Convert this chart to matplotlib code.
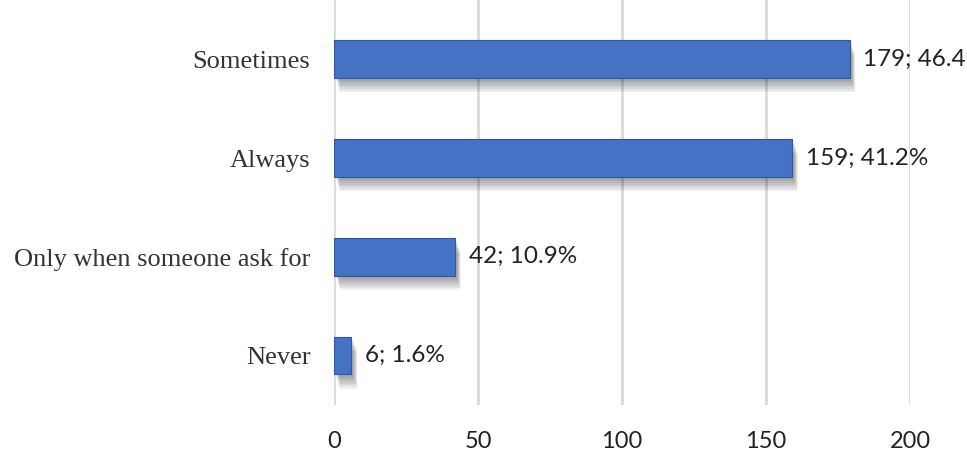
import matplotlib
matplotlib.use('Agg')
import matplotlib.pyplot as plt
import matplotlib.patheffects as pe

categories = ["Never", "Only when someone ask for", "Always", "Sometimes"]
counts = [6, 42, 159, 179]
percents = [1.6, 10.9, 41.2, 46.4]
xticks = [0, 50, 100, 150, 200]

fig = plt.figure(figsize=(9.67, 4.58), dpi=100)
ax = fig.add_axes([334 / 967, 53 / 458, (910 - 334) / 967, 405 / 458])

# soft drop shadow: stacked translucent copies shifted down/right
shadow = [pe.SimplePatchShadow(offset=(1.5 + 0.4 * i, -2 - 1.2 * i), shadow_rgbFace='black', alpha=0.05)
          for i in range(8)] + [pe.Normal()]

pos = range(len(categories))
bars = ax.barh(pos, counts, height=0.38, color='#4472C4', edgecolor='#2F55A4',
               linewidth=0.8, zorder=3)
for b in bars:
    b.set_path_effects(shadow)

for y, c, p in zip(pos, counts, percents):
    ax.annotate(f"{c}; {p}%", (c, y), xytext=(10, 0), textcoords='offset points',
                va='center', ha='left', fontsize=17.5, family='Lato', color='#222222',
                annotation_clip=False)

ax.set_xlim(0, 200)
ax.set_ylim(-0.5, 3.6)
ax.set_xticks(xticks)
ax.set_yticks(list(pos))
ax.set_yticklabels(categories, family='Liberation Serif', fontsize=19, color='#333333')
for t in ax.get_xticklabels():
    t.set_family('Lato')
    t.set_fontsize(17)
    t.set_color('#222222')
ax.tick_params(length=0)
ax.tick_params(axis='x', pad=19)
ax.tick_params(axis='y', pad=17)
ax.grid(axis='x', color='#d9d9d9', linewidth=2, zorder=0)
for s in ax.spines.values():
    s.set_visible(False)

fig.savefig('out.png', dpi=100)
